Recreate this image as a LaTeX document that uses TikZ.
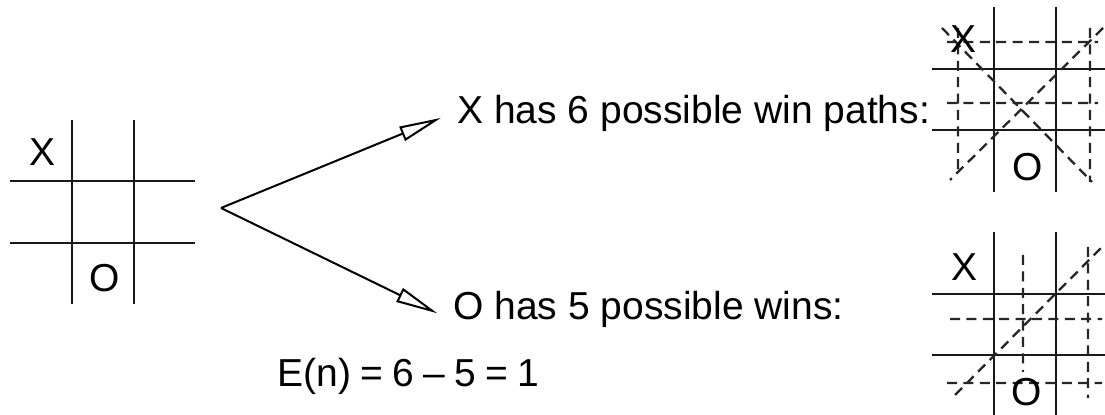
\documentclass[tikz,border=0pt]{standalone}
\usepackage{fontspec}
\setmainfont{Liberation Sans}
\usetikzlibrary{arrows.meta,positioning}

\begin{document}
\begin{tikzpicture}[
  x=0.5pt, y=-0.5pt,
  grid/.style={line width=1.15pt, black!90},
  winline/.style={line width=1.15pt, black!85, dash pattern=on 5pt off 3.2pt},
  piece/.style={inner sep=0pt, font=\fontsize{19.5}{23}\selectfont},
  label/.style={anchor=west, inner sep=2pt, font=\fontsize{19.5}{23}\selectfont},
  arrow/.style={-{Triangle[open, length=21pt, width=7.5pt]}, line width=1pt, shorten >=6.5pt}
]
\useasboundingbox (0,0) rectangle (1105,415);
\clip (0,0) rectangle (1105,415);

% Start position
\draw[grid] (72,120) -- (72,304) (134,120) -- (134,304)
            (10,181) -- (195,181) (10,243) -- (195,243);
\node[piece] (x0) at (43,152) {X};
\node[piece] (o0) at (105,278) {O};

% Texts
\coordinate (fork) at (221,208);
\node[label] (xwin) at (453,113) {X has 6 possible win paths:};
\node[label] (owin) at (449,309) {O has 5 possible wins:};
\node[label] (eval) at (273,376) {E(n)\hspace{0.24em}=\hspace{0.24em}6\hspace{0.24em}--\hspace{0.24em}5\hspace{0.24em}=\hspace{0.24em}1};

\draw[arrow] (fork) -- (xwin.west);
\draw[arrow] (fork) -- ([yshift=-5pt]owin.west);

% X win paths
\draw[grid] (994,7) -- (994,192) (1056,7) -- (1056,192)
            (932,69) -- (1105,69) (932,130) -- (1105,130);
\draw[winline] (947,42) -- (1098,42) (947,103) -- (1098,103)
               (958,28) -- (958,170) (1090,28) -- (1090,182)
               (942,28) -- (1092,182) (1103,28) -- (950,180);
\node[piece] (x1) at (964,39) {X};
\node[piece] (o1) at (1028,167) {O};

% O win paths
\draw[grid] (994,232) -- (994,415) (1056,232) -- (1056,415)
            (932,294) -- (1105,294) (932,355) -- (1105,355);
\draw[winline] (950,319) -- (1102,319) (947,383) -- (1102,383)
               (1023,255) -- (1023,372) (1088,247) -- (1088,398)
               (955,395) -- (1102,247);
\node[piece] (x2) at (965,267) {X};
\node[piece] (o2) at (1027,392) {O};
\end{tikzpicture}
\end{document}
